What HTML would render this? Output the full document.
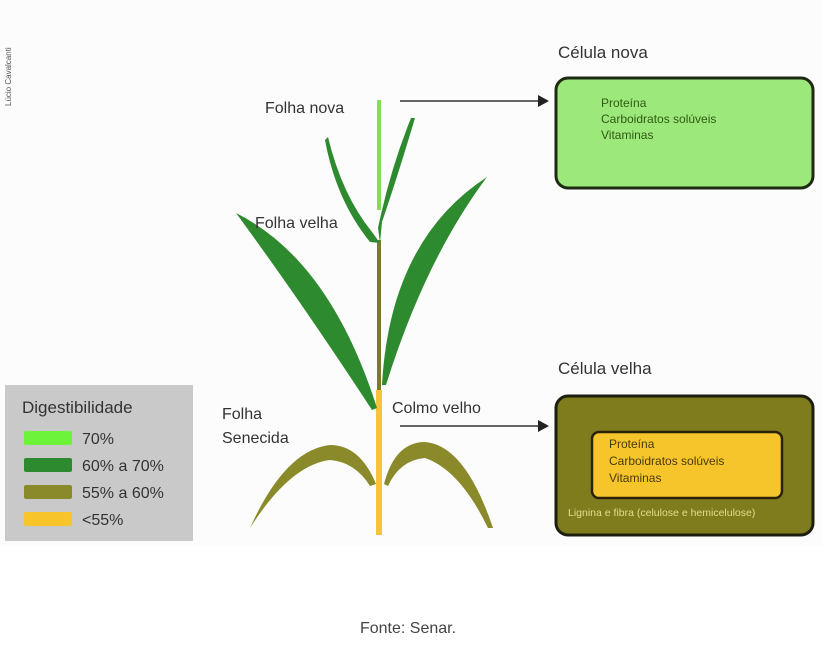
<!DOCTYPE html>
<html><head><meta charset="utf-8">
<style>
html,body{margin:0;padding:0;background:#fff;}
svg{display:block;}
text{font-family:"Liberation Sans","DejaVu Sans",sans-serif;}
</style></head>
<body>
<svg width="822" height="656" viewBox="0 0 822 656" xmlns="http://www.w3.org/2000/svg">
<rect x="0" y="0" width="822" height="546" fill="#fcfcfc"/>
<text transform="translate(11,106) rotate(-90)" font-size="8" fill="#555">Lúcio Cavalcanti</text>

<rect x="5" y="385" width="188" height="156" fill="#c9c9c9"/>
<text x="22" y="413" font-size="17" fill="#333">Digestibilidade</text>
<rect x="24" y="431" width="48" height="14" rx="2" fill="#6cf33a"/>
<text x="82" y="444" font-size="16" fill="#333">70%</text>
<rect x="24" y="458" width="48" height="14" rx="2" fill="#2e8a2e"/>
<text x="82" y="471" font-size="16" fill="#333">60% a 70%</text>
<rect x="24" y="485" width="48" height="14" rx="2" fill="#8a8a2a"/>
<text x="82" y="498" font-size="16" fill="#333">55% a 60%</text>
<rect x="24" y="512" width="48" height="14" rx="2" fill="#f7c52a"/>
<text x="82" y="525" font-size="16" fill="#333">&lt;55%</text>

<rect x="377" y="100" width="4" height="110" fill="#7fe14e"/>
<rect x="377" y="240" width="4" height="152" fill="#7a7a2a"/>
<rect x="376" y="390" width="6" height="145" fill="#f3c63a"/>

<path d="M328,137 Q342,195 372,232 L380,243 L370,242 Q336,200 325,140 Z" fill="#2e8a2e"/>
<path d="M415,118 Q398,175 382,222 L380,243 L378,228 Q390,170 411,118 Z" fill="#2e8a2e"/>
<path d="M236,213 Q330,260 377,408 L372,410 Q300,300 236,213 Z" fill="#2e8a2e"/>
<path d="M382,385 Q390,240 487,177 Q425,260 386,385 Z" fill="#2e8a2e"/>
<path d="M250,528 Q285,450 330,445 Q360,445 376,484 L370,486 Q355,462 330,460 Q290,465 250,528 Z" fill="#8a8a2a"/>
<path d="M384,484 Q395,442 425,442 Q465,445 493,528 L488,528 Q460,470 425,458 Q400,460 388,486 Z" fill="#8a8a2a"/>

<text x="265" y="113" font-size="16" fill="#333">Folha nova</text>
<text x="255" y="228" font-size="16" fill="#333">Folha velha</text>
<text x="392" y="413" font-size="16" fill="#333">Colmo velho</text>
<text x="222" y="419" font-size="16" fill="#333">Folha</text>
<text x="222" y="443" font-size="16" fill="#333">Senecida</text>

<line x1="400" y1="101" x2="540" y2="101" stroke="#333" stroke-width="1.5"/>
<path d="M538,95 L549,101 L538,107 Z" fill="#222"/>
<line x1="400" y1="426" x2="540" y2="426" stroke="#333" stroke-width="1.5"/>
<path d="M538,420 L549,426 L538,432 Z" fill="#222"/>

<text x="558" y="58" font-size="17" fill="#333">Célula nova</text>
<rect x="556" y="78" width="257" height="110" rx="12" fill="#9de87a" stroke="#1e2a12" stroke-width="3"/>
<text x="601" y="107" font-size="12" fill="#2f5a14">Proteína</text>
<text x="601" y="123" font-size="12" fill="#2f5a14">Carboidratos solúveis</text>
<text x="601" y="139" font-size="12" fill="#2f5a14">Vitaminas</text>

<text x="558" y="374" font-size="17" fill="#333">Célula velha</text>
<rect x="556" y="396" width="257" height="139" rx="12" fill="#7f7c1e" stroke="#1e1e0e" stroke-width="3"/>
<rect x="592" y="432" width="190" height="66" rx="7" fill="#f6c52c" stroke="#2a2208" stroke-width="2.5"/>
<text x="609" y="448" font-size="12" fill="#4a3a08">Proteína</text>
<text x="609" y="465" font-size="12" fill="#4a3a08">Carboidratos solúveis</text>
<text x="609" y="482" font-size="12" fill="#4a3a08">Vitaminas</text>
<text x="568" y="516" font-size="10.5" fill="#e4dc8a">Lignina e fibra (celulose e hemicelulose)</text>

<text x="408" y="633" font-size="16" fill="#444" text-anchor="middle">Fonte: Senar.</text>
</svg>
</body></html>
